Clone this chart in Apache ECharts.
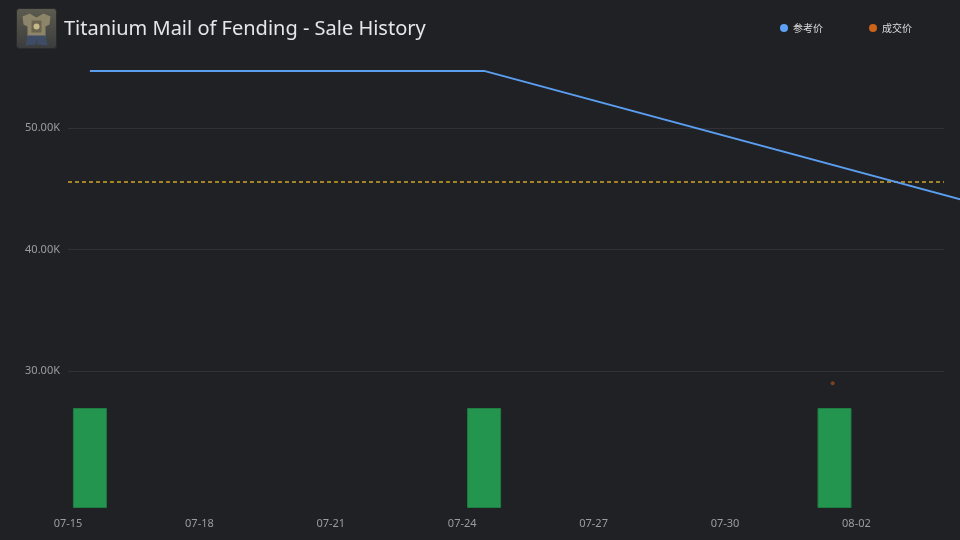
<!DOCTYPE html>
<html>
<head>
<meta charset="utf-8">
<script src="https://cdn.jsdelivr.net/npm/echarts@6/dist/echarts.min.js"></script>
<style>
html,body{margin:0;padding:0;background:#202125;}
#c{width:960px;height:540px;}
</style>
</head>
<body>
<div id="c"></div>
<script>
// ---- data ----
const titleText = 'Titanium Mail of Fending - Sale History';
const seriesNames = ['参考价', '成交价'];
const lineDates = ['2024-07-15 12:00', '2024-07-24 12:00', '2024-08-04 12:00'];
const lineValues = [54700, 54700, 44000];
const saleDates = ['2024-08-01 11:00'];
const saleValues = [29000];
const volumeDates = ['2024-07-15 12:00', '2024-07-24 12:00', '2024-08-01 12:00'];
const volumeValues = [1, 1, 1];
const averagePrice = 45560;
const axisStartDate = '2024-07-15 00:00';
const axisEndDate = '2024-08-04 00:00';
const xTickStepDays = 3;
const yTickValues = [30000, 40000, 50000];

// ---- helpers ----
function toUTC(s) {
  const [d, t] = s.split(' ');
  const [y, m, dd] = d.split('-').map(Number);
  const [hh, mm] = (t || '00:00').split(':').map(Number);
  return Date.UTC(y, m - 1, dd, hh, mm);
}
const base = toUTC(axisStartDate);
const DAY = 86400000;
const dayOf = s => (toUTC(s) - base) / DAY;
const pad = n => (n < 10 ? '0' : '') + n;
function dayLabel(v) {
  const d = new Date(base + v * DAY);
  return pad(d.getUTCMonth() + 1) + '-' + pad(d.getUTCDate());
}
const xMax = dayOf(axisEndDate);

const linePts = lineDates.map((d, i) => [dayOf(d), lineValues[i]]);
const salePts = saleDates.map((d, i) => [dayOf(d), saleValues[i]]);
const volPts = volumeDates.map((d, i) => [dayOf(d), volumeValues[i]]);

const W = 960, gridLeft = 68, gridRight = 16;
const pxPerDay = (W - gridLeft - gridRight) / xMax;
// overflow grid for the price line: same scale, reaching the canvas edge
const xMaxWide = (W - gridLeft) / pxPerDay;

const gridColor = '#303238';
const labelColor = '#9a9ca3';
const gTop = 55.1, gBottom = 144.7;

const chart = echarts.init(document.getElementById('c'), null, {renderer: 'canvas'});
chart.setOption({
  backgroundColor: '#202125',
  animation: false,
  title: {
    text: titleText,
    left: 64, top: 19, padding: 0,
    textStyle: {color: '#e6e6e8', fontSize: 20, fontWeight: 'normal', fontFamily: 'Noto Sans'}
  },
  legend: {
    left: 780, top: 23, padding: 0,
    itemWidth: 8, itemHeight: 8, itemGap: 46,
    icon: 'circle',
    textStyle: {color: '#dddddd', fontSize: 10, fontFamily: 'Noto Sans CJK SC'},
    data: [
      {name: seriesNames[0], itemStyle: {color: '#5ba0f5'}},
      {name: seriesNames[1], itemStyle: {color: '#f97316'}}
    ]
  },
  graphic: [{
    type: 'group', left: 16, top: 8,
    children: [
      {type: 'rect', shape: {x: 0, y: 0, width: 40, height: 40, r: 3},
       style: {fill: new echarts.graphic.LinearGradient(0, 0, 0, 1, [{offset: 0, color: '#5e5c50'}, {offset: 1, color: '#3a3b3c'}]), stroke: '#2a2a2a', lineWidth: 1}},
      {type: 'polygon', shape: {points: [[6,8],[13,5],[20,9],[27,5],[34,8],[33,16],[29,18],[29,30],[11,30],[11,18],[7,16]]},
       style: {fill: '#8d8569'}},
      {type: 'polygon', shape: {points: [[11,27],[29,27],[31,37],[21,36],[20,31],[19,36],[9,37]]},
       style: {fill: '#3e4c66'}},
      {type: 'rect', shape: {x: 15, y: 12, width: 10, height: 12}, style: {fill: '#6b6450'}},
      {type: 'circle', shape: {cx: 20, cy: 18, r: 3}, style: {fill: '#c8b98a'}}
    ]
  }],
  grid: [
    {left: gridLeft, right: gridRight, top: gTop, bottom: gBottom},
    {left: gridLeft, right: gridRight, top: 408, bottom: 32},
    {left: gridLeft, right: 0, top: gTop, bottom: gBottom}
  ],
  xAxis: [
    {type: 'value', gridIndex: 0, min: 0, max: xMax, interval: xTickStepDays,
     axisLine: {show: false}, axisTick: {show: false}, axisLabel: {show: false}, splitLine: {show: false}},
    {type: 'value', gridIndex: 1, min: 0, max: xMax, interval: xTickStepDays,
     axisLine: {show: false}, axisTick: {show: false}, splitLine: {show: false},
     axisLabel: {color: labelColor, fontSize: 11, margin: 10, fontFamily: 'Noto Sans', formatter: dayLabel, showMaxLabel: false}},
    {type: 'value', gridIndex: 2, min: 0, max: xMaxWide, show: false, splitLine: {show: false}}
  ],
  yAxis: [
    {type: 'value', gridIndex: 0, min: 28000, max: 56000, interval: 2000,
     axisLine: {show: false}, axisTick: {show: false},
     axisLabel: {color: labelColor, fontSize: 11, margin: 8, fontFamily: 'Noto Sans',
       formatter: v => yTickValues.indexOf(v) >= 0 ? (v / 1000).toFixed(2) + 'K' : ''},
     splitLine: {show: true, lineStyle: {width: 1, color: ['rgba(0,0,0,0)', gridColor, 'rgba(0,0,0,0)', 'rgba(0,0,0,0)', 'rgba(0,0,0,0)']}}},
    {type: 'value', gridIndex: 1, min: 0, max: 1, show: false, splitLine: {show: false}},
    {type: 'value', gridIndex: 2, min: 28000, max: 56000, show: false, splitLine: {show: false}}
  ],
  series: [
    {
      name: seriesNames[0], type: 'line', xAxisIndex: 2, yAxisIndex: 2,
      data: linePts, showSymbol: false, z: 5,
      lineStyle: {color: '#5b9ef0', width: 2}, itemStyle: {color: '#5ba0f5'}
    },
    {
      name: seriesNames[1], type: 'scatter', xAxisIndex: 0, yAxisIndex: 0,
      data: salePts, symbolSize: 4,
      itemStyle: {color: 'rgba(190,85,30,0.75)'},
      markLine: {
        silent: true, symbol: 'none', label: {show: false},
        lineStyle: {color: '#d1a52a', type: [4, 3], width: 1.5},
        data: [{yAxis: averagePrice}]
      }
    },
    {
      name: 'volume', type: 'bar', xAxisIndex: 1, yAxisIndex: 1,
      data: volPts, barWidth: 34,
      itemStyle: {color: '#23954f', borderColor: '#1f7d44', borderWidth: 1}
    }
  ]
});
</script>
</body>
</html>
